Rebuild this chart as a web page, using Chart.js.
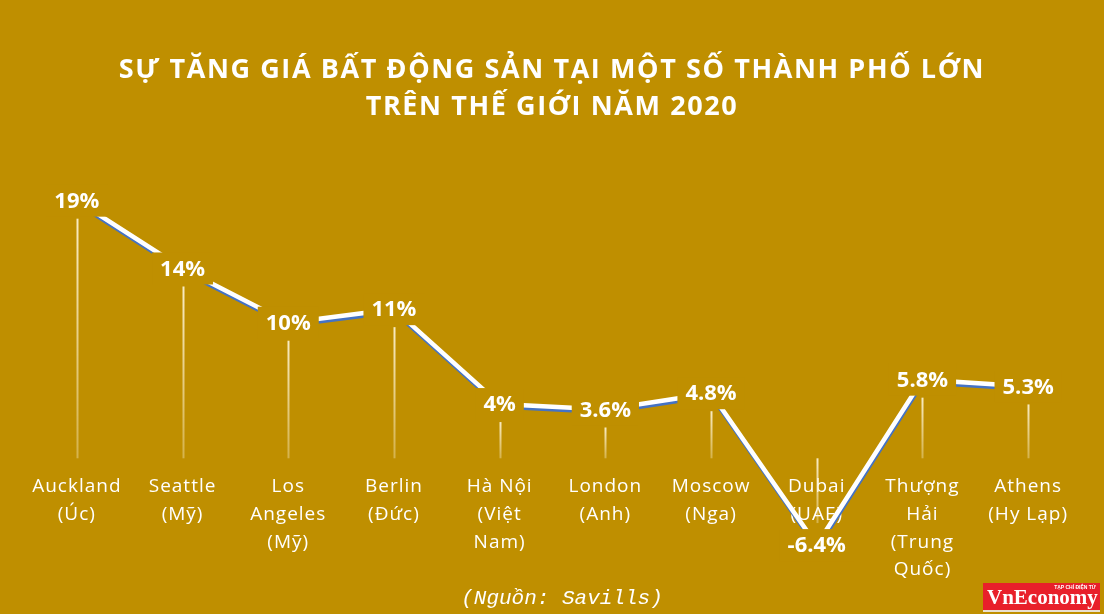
<!DOCTYPE html>
<html>
<head>
<meta charset="utf-8">
<script src="https://cdn.jsdelivr.net/npm/chart.js@4.4.1/dist/chart.umd.min.js"></script>
<style>
  html, body { margin: 0; padding: 0; background: #BF8F00; }
  #wrap { position: relative; width: 1104px; height: 614px; overflow: hidden; }
  #title {
    position: absolute; left: 0; top: 49px; width: 1104px; text-align: center;
    color: #fff; font: bold 27px "Open Sans", sans-serif; letter-spacing: 1.6px; line-height: 37px;
  }
  #source {
    position: absolute; left: 0; top: 587px; width: 1124px; text-align: center;
    color: #fff; font: italic 21px "Liberation Mono", monospace;
  }
  #logo {
    position: absolute; left: 983px; top: 583px; width: 117px; height: 27px;
    background: #E8202A; color: #fff; border-bottom: 2px solid #e8e0d0;
  }
  #logo .big { position: absolute; left: 4px; top: 3px; font: bold 21px "Liberation Serif", serif; line-height: 22px; }
  #logo .small { position: absolute; right: 4px; top: 1px; font: bold 5px "Liberation Sans", sans-serif; }
</style>
</head>
<body>
<div id="wrap">
  <canvas id="chartLine" width="1104" height="614"></canvas>
  <div id="title">SỰ TĂNG GIÁ BẤT ĐỘNG SẢN TẠI MỘT SỐ THÀNH PHỐ LỚN<br>TRÊN THẾ GIỚI NĂM 2020</div>
  <div id="source">(Nguồn: Savills)</div>
  <div id="logo"><span class="small">TẠP CHÍ ĐIỆN TỬ</span><span class="big">VnEconomy</span></div>
</div>
<script>
var cities = [
    ['Auckland', '(Úc)'],
    ['Seattle', '(Mỹ)'],
    ['Los', 'Angeles', '(Mỹ)'],
    ['Berlin', '(Đức)'],
    ['Hà Nội', '(Việt', 'Nam)'],
    ['London', '(Anh)'],
    ['Moscow', '(Nga)'],
    ['Dubai', '(UAE)'],
    ['Thượng', 'Hải', '(Trung', 'Quốc)'],
    ['Athens', '(Hy Lạp)']
];
var growth = [19, 14, 10, 11, 4, 3.6, 4.8, -6.4, 5.8, 5.3];

var BG = '#BF8F00';

// spaced-out text for the city names
var spacing = {
    id: 'spacing',
    beforeDraw: function (chart) {
        chart.ctx.letterSpacing = '1px';
    }
};

// drop lines from zero to each point
var dropLines = {
    id: 'dropLines',
    beforeDatasetsDraw: function (chart) {
        var ctx = chart.ctx;
        var y0 = chart.scales.y.getPixelForValue(0);
        var pts = chart.getDatasetMeta(0).data;
        ctx.save();
        ctx.lineWidth = 2;
        pts.forEach(function (p, i) {
            var a, b;
            if (growth[i] >= 0) { a = p.y + 18; b = y0; }
            else { a = y0; b = p.y - 22; }
            var g = ctx.createLinearGradient(0, a, 0, b);
            g.addColorStop(0, 'rgba(255,245,215,0.9)');
            g.addColorStop(1, 'rgba(255,245,215,0.35)');
            ctx.strokeStyle = g;
            ctx.beginPath();
            ctx.moveTo(Math.round(p.x) + 0.5, a);
            ctx.lineTo(Math.round(p.x) + 0.5, b);
            ctx.stroke();
        });
        ctx.restore();
    }
};

// blue shadow under the white line
var lineShadow = {
    id: 'lineShadow',
    beforeDatasetDraw: function (chart) {
        var ctx = chart.ctx;
        ctx.save();
        ctx.shadowColor = '#4472C4';
        ctx.shadowOffsetX = 0.5;
        ctx.shadowOffsetY = 2.5;
        ctx.shadowBlur = 0;
    },
    afterDatasetDraw: function (chart) {
        chart.ctx.restore();
    }
};

// value labels with a box that hides the line
var valueLabels = {
    id: 'valueLabels',
    afterDatasetsDraw: function (chart) {
        var ctx = chart.ctx;
        var pts = chart.getDatasetMeta(0).data;
        ctx.save();
        ctx.letterSpacing = '0px';
        ctx.font = 'bold 22px "Open Sans", sans-serif';
        ctx.textAlign = 'center';
        ctx.textBaseline = 'middle';
        pts.forEach(function (p, i) {
            var txt = growth[i] + '%';
            var w = ctx.measureText(txt).width + 16;
            ctx.fillStyle = BG;
            ctx.fillRect(p.x - w / 2, p.y - 16, w, 32);
            ctx.fillStyle = '#fff';
            ctx.fillText(txt, p.x, p.y + 1);
        });
        ctx.restore();
    }
};

var ctx = document.getElementById('chartLine');
var myChart = new Chart(ctx, {
    type: 'line',
    data: {
        labels: cities,
        datasets: [{
            data: growth,
            borderColor: '#ffffff',
            borderWidth: 4.5,
            pointRadius: 0,
            tension: 0,
            clip: false
        }]
    },
    options: {
        responsive: false,
        animation: false,
        layout: { padding: { left: 24, right: 23, top: 160, bottom: 54 } },
        plugins: {
            legend: { display: false },
            tooltip: { enabled: false }
        },
        scales: {
            x: {
                position: { y: 0 },
                offset: true,
                grid: { display: false, drawTicks: false },
                border: { display: false },
                ticks: {
                    color: '#fff',
                    autoSkip: false,
                    maxRotation: 0,
                    padding: 15,
                    font: { family: '"Open Sans", sans-serif', size: 19, lineHeight: 1.45 }
                }
            },
            y: {
                display: false,
                min: -7.5,
                max: 22
            }
        }
    },
    plugins: [spacing, dropLines, lineShadow, valueLabels]
});
</script>
</body>
</html>
